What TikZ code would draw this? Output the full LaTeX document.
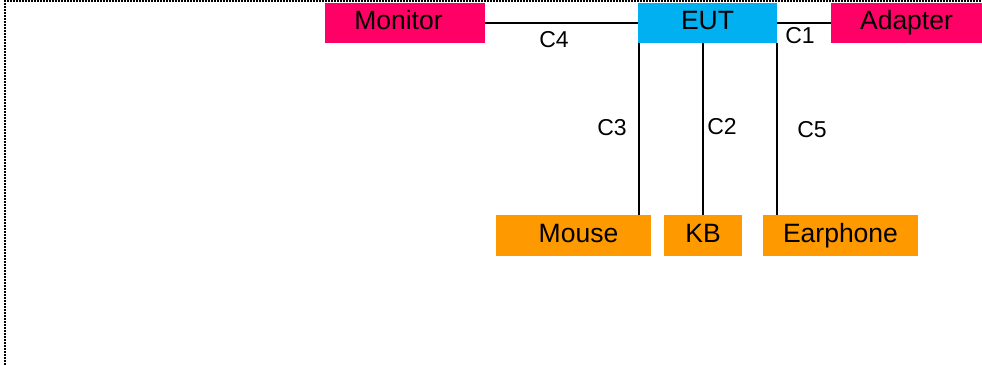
\documentclass[tikz,border=0pt]{standalone}
\usepackage{fontspec}
\setmainfont{Liberation Sans}
\definecolor{pinkbox}{HTML}{FF0066}
\definecolor{cyanbox}{HTML}{00B0F0}
\definecolor{orangebox}{HTML}{FF9900}
\begin{document}
\begin{tikzpicture}[x=1pt,y=-1pt,
  box/.style={rectangle, inner sep=0pt, minimum height=40pt, text height=19pt, text depth=5pt, font=\fontsize{26.5}{30}\selectfont},
  cable/.style={line width=2pt, black},
  lbl/.style={inner sep=0pt, font=\fontsize{23}{27}\selectfont}]
\useasboundingbox (0,0) rectangle (982,366);
\draw[line width=2pt, dash pattern=on 2pt off 1pt] (5,365) -- (5,1) -- (982,1);
\node[box, fill=pinkbox, minimum width=160pt] (mon) at (405,23) {\hspace*{-13pt}Monitor};
\node[box, fill=cyanbox, minimum width=139pt] (eut) at (707.5,23) {EUT};
\node[box, fill=pinkbox, minimum width=151pt] (ada) at (906.5,23) {Adapter};
\node[box, fill=orangebox, minimum width=155pt, minimum height=41pt] (mouse) at (573.5,235.5) {\hspace*{10pt}Mouse};
\node[box, fill=orangebox, minimum width=78pt, minimum height=41pt] (kb) at (703,235.5) {KB};
\node[box, fill=orangebox, minimum width=155pt, minimum height=41pt] (ear) at (840.5,235.5) {Earphone};
\draw[cable] (mon.east) -- (eut.west);
\draw[cable] (eut.east) -- (ada.west);
\draw[cable] ([xshift=1pt]eut.south west) -- ([xshift=1pt]eut.south west |- mouse.north);
\draw[cable] (eut.south -| kb.north) -- (kb.north);
\draw[cable] ([xshift=-0.5pt]eut.south east) -- ([xshift=-0.5pt]eut.south east |- ear.north);
\node[lbl] (c4) at (554,39.5) {C4};
\node[lbl] (c1) at (800,35.5) {C1};
\node[lbl] (c3) at (612,127.5) {C3};
\node[lbl] (c2) at (722,126.5) {C2};
\node[lbl] (c5) at (812,129.5) {C5};
\end{tikzpicture}
\end{document}
